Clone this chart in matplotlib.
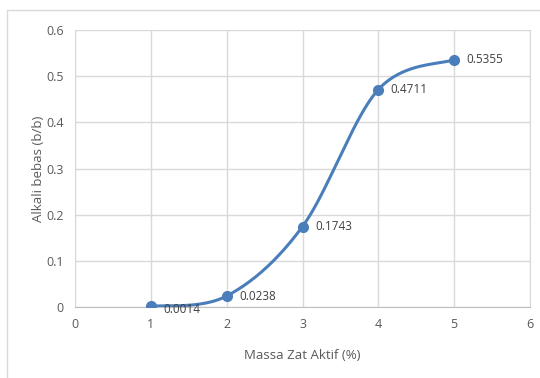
import numpy as np
import matplotlib.pyplot as plt
from matplotlib.patches import Rectangle

# data
massa = [1, 2, 3, 4, 5]
alkali = [0.0014, 0.0238, 0.1743, 0.4711, 0.5355]
labels = ["0.0014", "0.0238", "0.1743", "0.4711", "0.5355"]


def excel_smooth(x, y, n=40):
    # cubic bezier through points, excel-like tension
    x = np.asarray(x, float)
    y = np.asarray(y, float)
    px = np.concatenate([[x[0]], x, [x[-1]]])
    py = np.concatenate([[y[0]], y, [y[-1]]])
    xs, ys = [], []
    t = np.linspace(0, 1, n)
    for i in range(1, len(px) - 2):
        p0 = np.array([px[i], py[i]])
        p3 = np.array([px[i + 1], py[i + 1]])
        p1 = p0 + (np.array([px[i + 1], py[i + 1]]) - np.array([px[i - 1], py[i - 1]])) / 6
        p2 = p3 - (np.array([px[i + 2], py[i + 2]]) - np.array([px[i], py[i]])) / 6
        b = ((1 - t) ** 3)[:, None] * p0 + (3 * (1 - t) ** 2 * t)[:, None] * p1 \
            + (3 * (1 - t) * t ** 2)[:, None] * p2 + (t ** 3)[:, None] * p3
        xs.extend(b[:, 0])
        ys.extend(b[:, 1])
    return np.array(xs), np.array(ys)


plt.rcParams['font.family'] = ['Open Sans', 'DejaVu Sans']
gray = '#595959'
blue = '#4A7EBB'

fig = plt.figure(figsize=(5.4, 3.78), dpi=100)
fig.patches.append(Rectangle((7 / 540, -0.1), 1.2, (378 - 10) / 378 + 0.1,
                             transform=fig.transFigure, fill=False,
                             edgecolor='#D9D9D9', lw=1))
ax = fig.add_axes([75 / 540, 1 - 307 / 378, (530 - 75) / 540, (307 - 30) / 378])

sx, sy = excel_smooth(massa, alkali)
ax.plot(sx, sy, color=blue, lw=2.2, solid_capstyle='round', zorder=3)
ax.plot(massa, alkali, 'o', color=blue, ms=7, zorder=4)
for xv, yv, lab in zip(massa, alkali, labels):
    ax.annotate(lab, (xv, yv), xytext=(9, -2 if yv < 0.01 else 0),
                textcoords='offset points', va='center', ha='left',
                fontsize=8.5, color='#404040')

ax.set_xlim(0, 6)
ax.set_ylim(0, 0.6)
ax.set_xticks(range(0, 7))
ax.set_yticks(np.arange(0, 0.61, 0.1))
ax.set_yticklabels(['0', '0.1', '0.2', '0.3', '0.4', '0.5', '0.6'])
ax.grid(True, color='#D9D9D9', lw=1)
ax.set_axisbelow(True)
for s in ['top']:
    ax.spines[s].set_visible(False)
for s in ['left', 'right']:
    ax.spines[s].set_color('#D9D9D9')
ax.spines['bottom'].set_color('#BFBFBF')
ax.tick_params(length=0, labelsize=9, labelcolor=gray, pad=8)
ax.set_xlabel('Massa Zat Aktif (%)', fontsize=9.5, color=gray, labelpad=13)
ax.set_ylabel('Alkali bebas (b/b)', fontsize=9.5, color=gray, labelpad=1)

fig.savefig('out.png', dpi=100)
